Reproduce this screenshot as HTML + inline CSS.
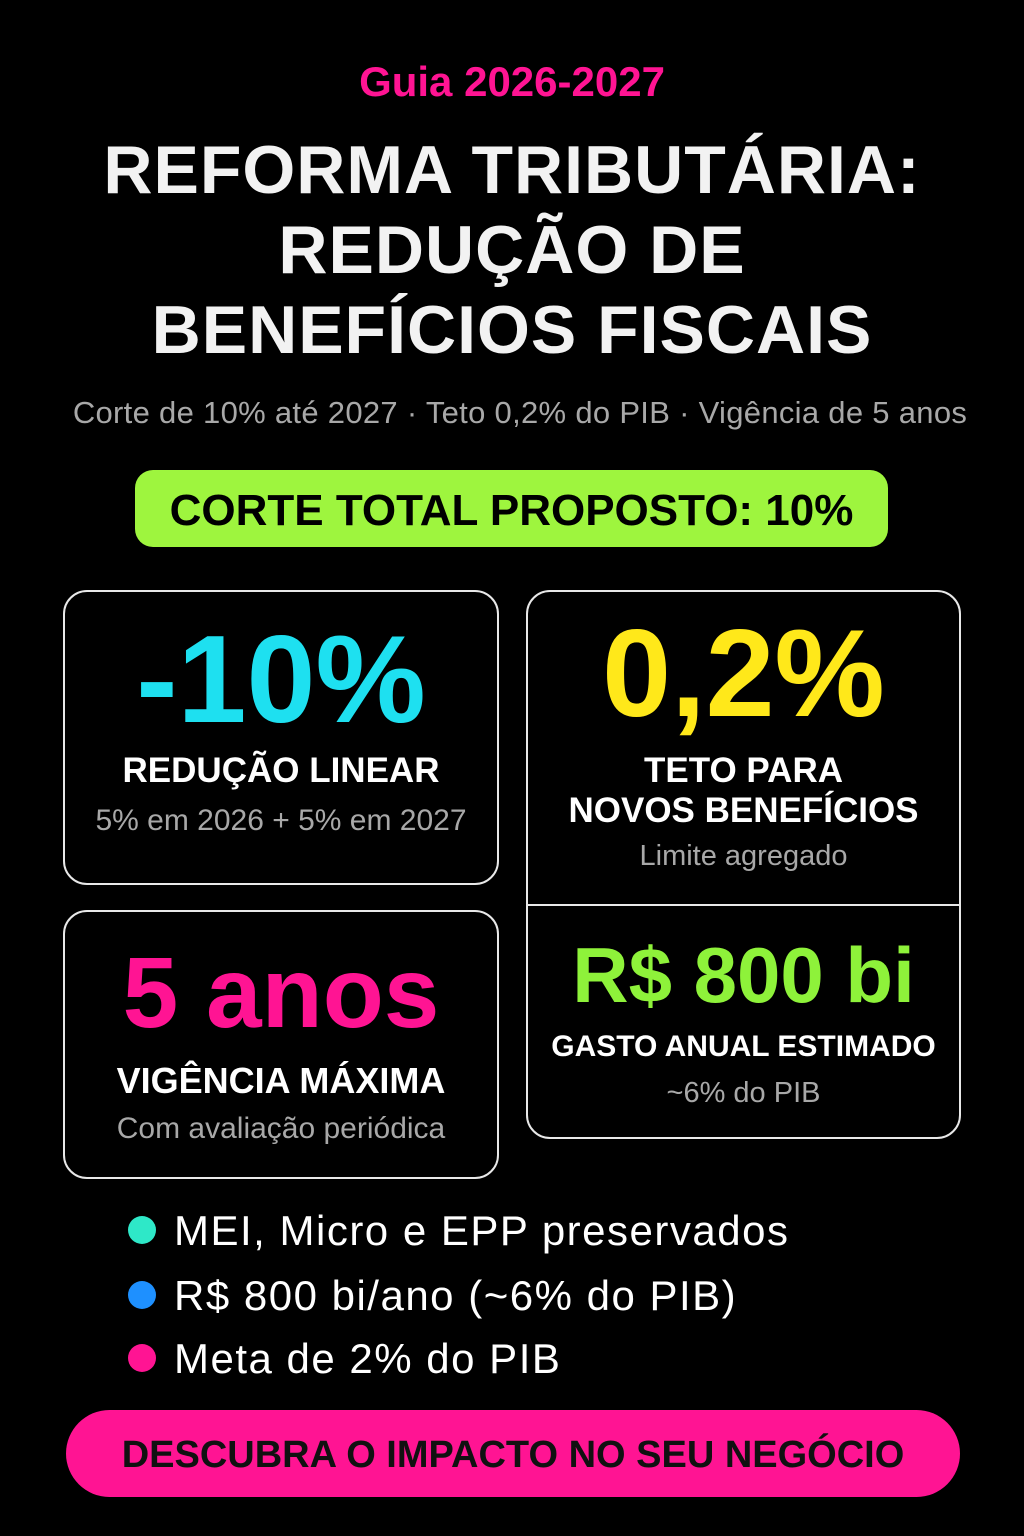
<!DOCTYPE html>
<html><head><meta charset="utf-8"><style>
*{margin:0;padding:0;box-sizing:border-box}
body{width:1024px;height:1536px;background:#000;position:relative;overflow:hidden;font-family:"Liberation Sans",sans-serif;color:#fff}
.c{position:absolute;left:0;width:1024px;text-align:center;white-space:nowrap}
.t{position:absolute;text-align:center;white-space:nowrap;font-weight:bold}
.card{position:absolute;border:2px solid #e8e8e8;border-radius:24px}
.dot{position:absolute;width:28px;height:28px;border-radius:50%;left:128px}
.bl{position:absolute;left:174px;font-size:42px;white-space:nowrap;letter-spacing:1.5px}
</style></head><body>
<div class="c" style="top:58px;font-size:42px;font-weight:bold;color:#ff1493">Guia 2026-2027</div>
<div class="c" style="top:130px;font-size:68px;font-weight:bold;line-height:80px;color:#f2f2f2;letter-spacing:1px">REFORMA TRIBUTÁRIA:<br>REDUÇÃO DE<br>BENEFÍCIOS FISCAIS</div>
<div class="t" style="left:20px;width:1000px;top:395px;font-size:31px;font-weight:normal;color:#a8a8a8;letter-spacing:0.3px">Corte de 10% até 2027 · Teto 0,2% do PIB · Vigência de 5 anos</div>
<div style="position:absolute;left:135px;top:470px;width:753px;height:77px;background:#9ef53e;border-radius:18px;color:#000;font-weight:bold;font-size:44px;text-align:center;line-height:81px">CORTE TOTAL PROPOSTO: 10%</div>

<div class="card" style="left:63px;top:590px;width:436px;height:295px"></div>
<div class="t" style="left:63px;width:436px;top:615px;font-size:124px;color:#1ee0f0;line-height:130px">-10%</div>
<div class="t" style="left:63px;width:436px;top:751px;font-size:35px">REDUÇÃO LINEAR</div>
<div class="t" style="left:63px;width:436px;top:804px;font-size:30px;font-weight:normal;color:#a8a8a8">5% em 2026 + 5% em 2027</div>

<div class="card" style="left:526px;top:590px;width:435px;height:549px"></div>
<div style="position:absolute;left:527px;top:904px;width:433px;height:2px;background:#e8e8e8"></div>
<div class="t" style="left:526px;width:435px;top:609px;font-size:124px;color:#ffe81a;line-height:130px">0,2%</div>
<div class="t" style="left:526px;width:435px;top:751px;font-size:35px;line-height:40px">TETO PARA<br>NOVOS BENEFÍCIOS</div>
<div class="t" style="left:526px;width:435px;top:840px;font-size:29px;font-weight:normal;color:#a8a8a8">Limite agregado</div>
<div class="t" style="left:526px;width:435px;top:930px;font-size:78px;color:#8ef23a;line-height:90px">R$ 800 bi</div>
<div class="t" style="left:526px;width:435px;top:1030px;font-size:30px">GASTO ANUAL ESTIMADO</div>
<div class="t" style="left:526px;width:435px;top:1077px;font-size:29px;font-weight:normal;color:#a8a8a8">~6% do PIB</div>

<div class="card" style="left:63px;top:910px;width:436px;height:269px"></div>
<div class="t" style="left:63px;width:436px;top:938px;font-size:100px;color:#ff1493;line-height:110px">5 anos</div>
<div class="t" style="left:63px;width:436px;top:1060px;font-size:36px">VIGÊNCIA MÁXIMA</div>
<div class="t" style="left:63px;width:436px;top:1112px;font-size:30px;font-weight:normal;color:#a8a8a8">Com avaliação periódica</div>

<div class="dot" style="top:1216px;background:#2ee8c8"></div>
<div class="bl" style="top:1207px">MEI, Micro e EPP preservados</div>
<div class="dot" style="top:1281px;background:#1e90ff"></div>
<div class="bl" style="top:1272px">R$ 800 bi/ano (~6% do PIB)</div>
<div class="dot" style="top:1344px;background:#ff1493"></div>
<div class="bl" style="top:1335px">Meta de 2% do PIB</div>

<div style="position:absolute;left:66px;top:1410px;width:894px;height:87px;background:#ff1493;border-radius:44px;color:#111;font-weight:bold;font-size:38px;text-align:center;line-height:91px;white-space:nowrap">DESCUBRA O IMPACTO NO SEU NEGÓCIO</div>
</body></html>
